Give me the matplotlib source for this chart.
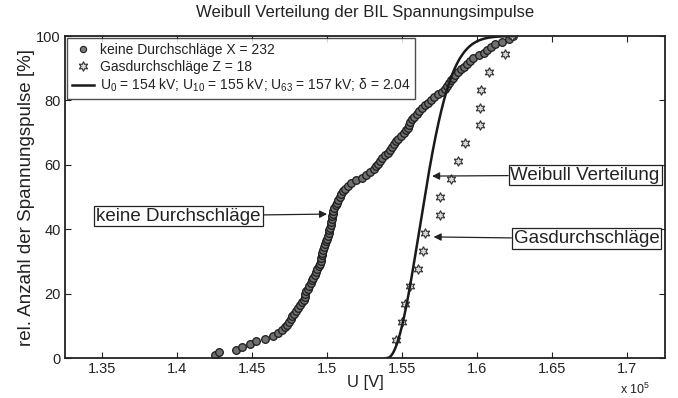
import numpy as np
import matplotlib
matplotlib.use('Agg')
import matplotlib.pyplot as plt
from matplotlib.lines import Line2D

plt.rcParams['font.family'] = ['Liberation Sans', 'DejaVu Sans']
plt.rcParams['mathtext.fontset'] = 'custom'
plt.rcParams['mathtext.rm'] = 'Liberation Sans'
plt.rcParams['mathtext.it'] = 'Liberation Sans'

# Spannungen ohne Durchschlag (kV), sortiert, jede zweite Rangstufe von 232
u_keine = [142.55, 142.8, 143.9, 144.3, 144.87, 145.27, 145.85, 146.37, 146.72, 146.98,
           147.17, 147.32, 147.46, 147.59, 147.68, 147.77, 147.9, 148.05, 148.19, 148.32,
           148.45, 148.5, 148.55, 148.62, 148.71, 148.8, 148.9, 148.99, 149.09, 149.17,
           149.27, 149.36, 149.46, 149.55, 149.59, 149.62, 149.65, 149.68, 149.73, 149.78,
           149.86, 149.96, 150.0, 150.03, 150.1, 150.15, 150.2, 150.24, 150.28, 150.32,
           150.35, 150.38, 150.41, 150.48, 150.57, 150.67, 150.76, 150.86, 150.95, 151.08,
           151.21, 151.38, 151.62, 151.92, 152.3, 152.6, 152.88, 153.13, 153.27, 153.41,
           153.55, 153.69, 153.85, 154.03, 154.21, 154.33, 154.45, 154.57, 154.73, 154.91,
           155.1, 155.29, 155.38, 155.46, 155.54, 155.65, 155.8, 155.97, 156.15, 156.33,
           156.52, 156.72, 156.92, 157.15, 157.4, 157.64, 157.83, 157.97, 158.1, 158.23,
           158.37, 158.53, 158.72, 158.91, 159.1, 159.32, 159.54, 159.76, 160.1, 160.43,
           160.69, 160.92, 161.21, 161.69, 162.1, 162.42]

# Gasdurchschläge (kV), Z = 18
u_gas = [154.6, 155.0, 155.2, 155.53, 156.07, 156.4, 156.53, 157.53, 157.53,
         158.27, 158.73, 159.2, 160.2, 160.2, 160.27, 160.8, 161.87, 162.33]

# Weibull Parameter (kV)
U0 = 154.0
U63 = 157.0
delta = 2.04

xticks = [1.35e5, 1.4e5, 1.45e5, 1.5e5, 1.55e5, 1.6e5, 1.65e5, 1.7e5]
xticklabels = ['1.35', '1.4', '1.45', '1.5', '1.55', '1.6', '1.65', '1.7']
yticks = [0, 20, 40, 60, 80, 100]

col = '#222222'

fig = plt.figure(figsize=(6.78, 3.98), dpi=100)
ax = fig.add_axes([0.0959, 0.1005, 0.885, 0.809])

# empirische Verteilung
x_k = np.array(u_keine) * 1000
p_k = np.arange(1, len(u_keine) + 1) / len(u_keine) * 100
x_g = np.array(u_gas) * 1000
p_g = np.arange(1, len(u_gas) + 1) / len(u_gas) * 100

ax.plot(x_k, p_k, 'o', ms=5.5, mfc='#707070', mec='#1c1c1c', mew=0.9, ls='none')
ax.plot(x_g, p_g, marker=(6, 1, 0), ms=7, mfc='#d8d8d8', mec='#303030', mew=0.8, ls='none')

uu = np.linspace(U0, 162.5, 300)
F = 1 - np.exp(-((uu - U0) / (U63 - U0)) ** delta)
ax.plot(uu * 1000, F * 100, color='#1a1a1a', lw=1.8)

ax.set_xlim(1.3253e5, 1.7253e5)
ax.set_ylim(0, 100)
ax.set_xticks(xticks)
ax.set_xticklabels(xticklabels)
ax.set_yticks(yticks)
ax.tick_params(direction='in', top=True, right=True, length=4, width=0.8,
               labelsize=10.5, colors=col, pad=3)
for s in ax.spines.values():
    s.set_linewidth(1.3)
    s.set_color(col)

ax.set_xlabel('U [V]', fontsize=12, color=col, labelpad=-1)
ax.set_ylabel('rel. Anzahl der Spannungspulse [%]', fontsize=13.5, color=col, labelpad=1)
ax.set_title('Weibull Verteilung der BIL Spannungsimpulse', fontsize=12, color=col, pad=14)
fig.text(0.914, 0.002, 'x 10$^5$', fontsize=9, color=col, va='bottom', ha='left')

handles = [
    Line2D([], [], marker='o', ms=4.5, mfc='#7a7a7a', mec='#202020', mew=0.8, ls='none'),
    Line2D([], [], marker=(6, 1, 0), ms=7, mfc='#d8d8d8', mec='#303030', mew=0.8, ls='none'),
    Line2D([], [], color='#1a1a1a', lw=1.8),
]
labels = ['keine Durchschläge X = 232',
          'Gasdurchschläge Z = 18',
          'U$_0$ = 154 kV; U$_{10}$ = 155 kV; U$_{63}$ = 157 kV; $\\delta$ = 2.04']
leg = ax.legend(handles, labels, loc='upper left', fontsize=10, frameon=True,
                fancybox=False, borderaxespad=0.15, handlelength=1.6, handletextpad=0.4,
                labelspacing=0.22, borderpad=0.35)
leg.get_frame().set_edgecolor(col)
leg.get_frame().set_linewidth(1.0)
for t in leg.get_texts():
    t.set_color(col)

box = dict(boxstyle='square,pad=0.1', fc='white', ec=col, lw=0.9)
arr = dict(arrowstyle='-|>', color=col, lw=0.9, mutation_scale=11, shrinkA=0, shrinkB=0)
ax.annotate('Weibull Verteilung', xy=(157.0e3, 56.5), xytext=(167.2e3, 56.8),
            fontsize=13.5, color=col, ha='center', va='center', bbox=box, arrowprops=arr)
ax.annotate('Gasdurchschläge', xy=(157.1e3, 37.6), xytext=(167.3e3, 37.0),
            fontsize=13.5, color=col, ha='center', va='center', bbox=box, arrowprops=arr)
ax.annotate('keine Durchschläge', xy=(150.0e3, 44.7), xytext=(140.1e3, 44.1),
            fontsize=13.5, color=col, ha='center', va='center', bbox=box, arrowprops=arr)

fig.savefig('out.png', dpi=100)
